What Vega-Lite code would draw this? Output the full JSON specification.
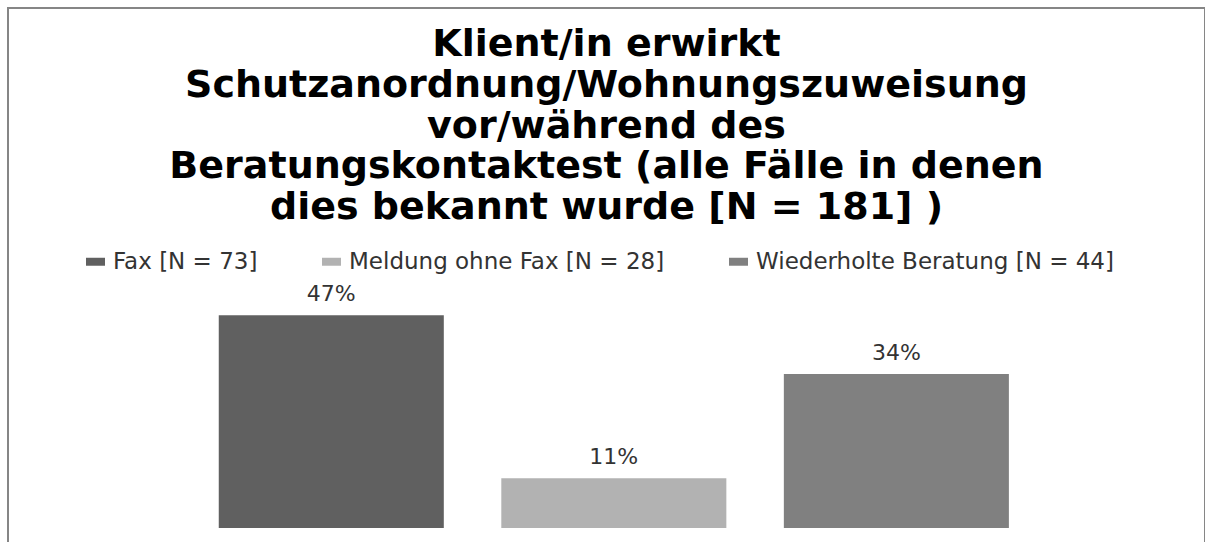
{
  "$schema": "https://vega.github.io/schema/vega-lite/v6.json",
  "width": 1197,
  "height": 540,
  "autosize": {"type": "none"},
  "padding": {"left": 8, "top": 8, "right": 0, "bottom": 0},
  "background": "white",
  "config": {
    "view": {"stroke": "#868686", "strokeWidth": 2},
    "font": "DejaVu Sans"
  },
  "title": {
    "text": ["Klient/in erwirkt", "Schutzanordnung/Wohnungszuweisung", "vor/während des", "Beratungskontaktest (alle Fälle in denen", "dies bekannt wurde [N = 181] )"],
    "fontSize": 38,
    "font": "DejaVu Sans",
    "fontWeight": "bold",
    "color": "#000000",
    "lineHeight": 40.7,
    "anchor": "middle",
    "frame": "group",
    "orient": "top",
    "baseline": "alphabetic",
    "offset": -249
  },
  "data": {
    "values": [
      {"category": "Fax [N = 73]", "value": 0.47},
      {"category": "Meldung ohne Fax [N = 28]", "value": 0.11},
      {"category": "Wiederholte Beratung [N = 44]", "value": 0.34}
    ]
  },
  "encoding": {
    "x": {
      "field": "category",
      "type": "nominal",
      "sort": null,
      "axis": null,
      "scale": {"paddingInner": 0.2035, "paddingOuter": 0.72, "align": 0.518}
    },
    "y": {
      "field": "value",
      "type": "quantitative",
      "axis": null,
      "scale": {"domain": [-0.0442, 1.1484], "nice": false}
    }
  },
  "layer": [
    {
      "mark": {"type": "bar"},
      "encoding": {
        "color": {
          "field": "category",
          "type": "nominal",
          "sort": null,
          "scale": {"range": ["#606060", "#b2b2b2", "#808080"]},
          "legend": {
            "orient": "none",
            "legendX": 76,
            "legendY": 242,
            "direction": "horizontal",
            "title": null,
            "labelFontSize": 23,
            "labelFont": "DejaVu Sans",
            "labelColor": "#333333",
            "symbolType": "M-1,-0.42H1V0.42H-1Z",
            "symbolSize": 361,
            "symbolStrokeWidth": 0,
            "columnPadding": 62,
            "labelOffset": 6,
            "labelLimit": 0
          }
        }
      }
    },
    {
      "mark": {"type": "text", "dy": -14, "baseline": "alphabetic", "fontSize": 22, "color": "#333333", "font": "DejaVu Sans"},
      "encoding": {
        "text": {"field": "value", "type": "quantitative", "format": ".0%"}
      }
    }
  ]
}
